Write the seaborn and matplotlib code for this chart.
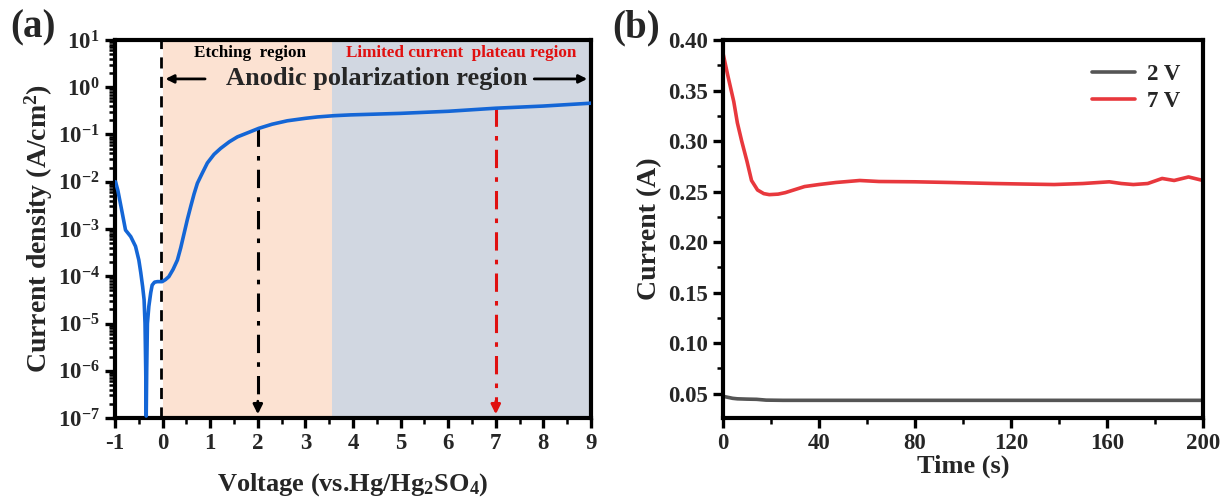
import numpy as np
import pandas as pd
import matplotlib
matplotlib.use("Agg")
import matplotlib.pyplot as plt
import seaborn as sns
from matplotlib.ticker import LogLocator, NullFormatter, MultipleLocator, FormatStrFormatter

# ---------------- data ----------------
voltage = [-0.99, -0.94, -0.86, -0.78, -0.67, -0.57, -0.50, -0.46, -0.42, -0.39,
           -0.37, -0.355, -0.345, -0.335, -0.32, -0.29, -0.25, -0.22, -0.17, -0.11,
           -0.01, 0.06, 0.13, 0.22, 0.31, 0.38, 0.45, 0.52, 0.59, 0.66, 0.73, 0.83,
           0.94, 1.08, 1.22, 1.40, 1.57, 1.80, 2.02, 2.30, 2.62, 3.00, 3.25, 3.60,
           3.95, 5.00, 6.00, 7.00, 8.00, 9.00]
current_density = [1.0e-2, 6.5e-3, 2.5e-3, 9.5e-4, 6.9e-4, 4.3e-4, 2.2e-4, 1.2e-4,
                   6.0e-5, 3.2e-5, 1.0e-5, 1.0e-6, 1.1e-7, 1.0e-6, 1.0e-5, 2.3e-5,
                   4.5e-5, 6.5e-5, 7.5e-5, 7.7e-5, 7.7e-5, 8.5e-5, 9.8e-5, 1.4e-4,
                   2.2e-4, 4.0e-4, 8.0e-4, 1.6e-3, 3.0e-3, 5.5e-3, 9.3e-3, 1.5e-2,
                   2.5e-2, 3.8e-2, 5.1e-2, 7.0e-2, 8.9e-2, 1.1e-1, 1.35e-1, 1.65e-1,
                   1.95e-1, 2.2e-1, 2.35e-1, 2.5e-1, 2.6e-1, 2.8e-1, 3.1e-1, 3.6e-1,
                   4.0e-1, 4.6e-1]

time_s = [0, 2, 4.5, 6, 7.8, 10, 11.9, 14.4, 17, 19.3, 23, 26, 30, 34, 40, 47, 57, 65,
          80, 95, 113, 125, 138, 150, 161, 166, 171, 177, 183, 188, 194, 200]
current_7v = [0.387, 0.365, 0.339, 0.318, 0.300, 0.280, 0.261, 0.2516, 0.248, 0.247,
              0.2475, 0.249, 0.252, 0.255, 0.257, 0.259, 0.261, 0.260, 0.2597, 0.259,
              0.258, 0.2575, 0.257, 0.258, 0.2597, 0.258, 0.257, 0.258, 0.263, 0.261,
              0.2645, 0.261]
time_2v = [0, 2, 4, 6, 10, 14, 18, 25, 50, 100, 150, 200]
current_2v = [0.0475, 0.0465, 0.0455, 0.045, 0.0447, 0.0445, 0.0437, 0.0435, 0.0435,
              0.0435, 0.0435, 0.0435]

series_labels = ["2 V", "7 V"]
arrow_x = [2, 7]
arrow_top = [0.135, 0.36]
arrow_colors = ["black", "#e01010"]
region_bounds = [0.0, 3.55, 9.0]

# ---------------- style ----------------
sns.set_theme(style="ticks")
plt.rcParams["font.family"] = ["Liberation Serif", "DejaVu Serif"]
plt.rcParams["font.weight"] = "bold"
plt.rcParams["axes.labelweight"] = "bold"
plt.rcParams["axes.unicode_minus"] = False
plt.rcParams["mathtext.fontset"] = "custom"
plt.rcParams["mathtext.rm"] = "Liberation Serif:bold"
plt.rcParams["mathtext.bf"] = "Liberation Serif:bold"
plt.rcParams["mathtext.it"] = "Liberation Serif:bold"
plt.rcParams["mathtext.default"] = "bf"

fig = plt.figure(figsize=(12.2, 4.98), dpi=100)
ax1 = fig.add_axes([0.0943, 0.1606, 0.3901, 0.7591])
ax2 = fig.add_axes([0.5926, 0.1606, 0.3934, 0.7591])

blue = "#1466d6"
red = "#e8383d"
gray = "#555555"

# ---------------- panel (a) ----------------
ax1.axvspan(region_bounds[0], region_bounds[1], color="#fce2d2", lw=0, zorder=0)
ax1.axvspan(region_bounds[1], region_bounds[2], color="#d1d7e1", lw=0, zorder=0)
ax1.axvline(-0.03, color="black", lw=2, ls=(0, (4, 3)), zorder=2)

dfa = pd.DataFrame({"V": voltage, "J": current_density})
sns.lineplot(data=dfa, x="V", y="J", ax=ax1, color=blue, lw=2.6, zorder=4)
ax1.set_yscale("log")
ax1.set_xlim(-1, 9)
ax1.set_ylim(1e-7, 10)

for xa, yt, c in zip(arrow_x, arrow_top, arrow_colors):
    ax1.plot([xa, xa], [yt, 2.2e-7], color=c, lw=2.2, ls=(0, (6, 3, 1.5, 3)), zorder=3)
    ax1.annotate("", xy=(xa, 1.05e-7), xytext=(xa, 2.6e-7),
                 arrowprops=dict(arrowstyle="-|>", color=c, lw=2, mutation_scale=14),
                 zorder=3)

ax1.text(1.83, 5.3, "Etching  region", ha="center", va="center", fontsize=12.3,
         fontweight="bold", color="black")
ax1.text(6.27, 5.3, "Limited current  plateau region", ha="center", va="center",
         fontsize=12.3, fontweight="bold", color="#e01010")
ax1.text(4.5, 1.55, "Anodic polarization region", ha="center", va="center",
         fontsize=19, fontweight="bold")
ax1.annotate("", xy=(0.0, 1.5), xytext=(0.95, 1.5),
             arrowprops=dict(arrowstyle="-|>", color="black", lw=2, mutation_scale=12))
ax1.annotate("", xy=(8.98, 1.5), xytext=(7.75, 1.5),
             arrowprops=dict(arrowstyle="-|>", color="black", lw=2, mutation_scale=12))

ax1.xaxis.set_major_locator(MultipleLocator(1))
ax1.xaxis.set_minor_locator(MultipleLocator(0.5))
ax1.yaxis.set_major_locator(LogLocator(base=10, numticks=20))
ax1.yaxis.set_minor_locator(LogLocator(base=10, subs=np.arange(2, 10), numticks=20))
ax1.yaxis.set_minor_formatter(NullFormatter())
ax1.set_xlabel(r"Voltage (vs.Hg/Hg$_\mathbf{2}$SO$_\mathbf{4}$)", fontsize=19, labelpad=12)
ax1.set_ylabel(r"Current density (A/cm$^\mathbf{2}$)", fontsize=20, labelpad=2)

# ---------------- panel (b) ----------------
dfb = pd.concat([
    pd.DataFrame({"t": time_2v, "I": current_2v, "s": series_labels[0]}),
    pd.DataFrame({"t": time_s, "I": current_7v, "s": series_labels[1]}),
])
sns.lineplot(data=dfb, x="t", y="I", hue="s", palette=[gray, red], ax=ax2, lw=2.6)
ax2.set_xlim(0, 200)
ax2.set_ylim(0.026, 0.40)
ax2.xaxis.set_major_locator(MultipleLocator(40))
ax2.xaxis.set_minor_locator(MultipleLocator(20))
ax2.yaxis.set_major_locator(MultipleLocator(0.05))
ax2.yaxis.set_minor_locator(MultipleLocator(0.025))
ax2.yaxis.set_major_formatter(FormatStrFormatter("%.2f"))
ax2.set_xlabel("Time (s)", fontsize=19, labelpad=0)
ax2.set_ylabel("Current (A)", fontsize=20, labelpad=4)
leg = ax2.legend(loc="upper right", bbox_to_anchor=(0.995, 0.99), frameon=False,
                 fontsize=16.5, handlelength=1.9, handletextpad=0.5, labelspacing=0.25)
for t in leg.get_texts():
    t.set_fontweight("bold")

for ax in (ax1, ax2):
    for sp in ax.spines.values():
        sp.set_linewidth(3)
        sp.set_color("black")
    ax.tick_params(which="major", direction="out", length=7, width=2.4,
                   labelsize=16.5, pad=4, color="black")
    ax.tick_params(which="minor", direction="out", length=4, width=1.8, color="black")
    for lab in ax.get_xticklabels() + ax.get_yticklabels():
        lab.set_fontweight("bold")

fig.text(0.008, 0.944, "(a)", fontsize=28, fontweight="bold", va="center")
fig.text(0.502, 0.944, "(b)", fontsize=28, fontweight="bold", va="center")

fig.savefig("out.png", dpi=100)
